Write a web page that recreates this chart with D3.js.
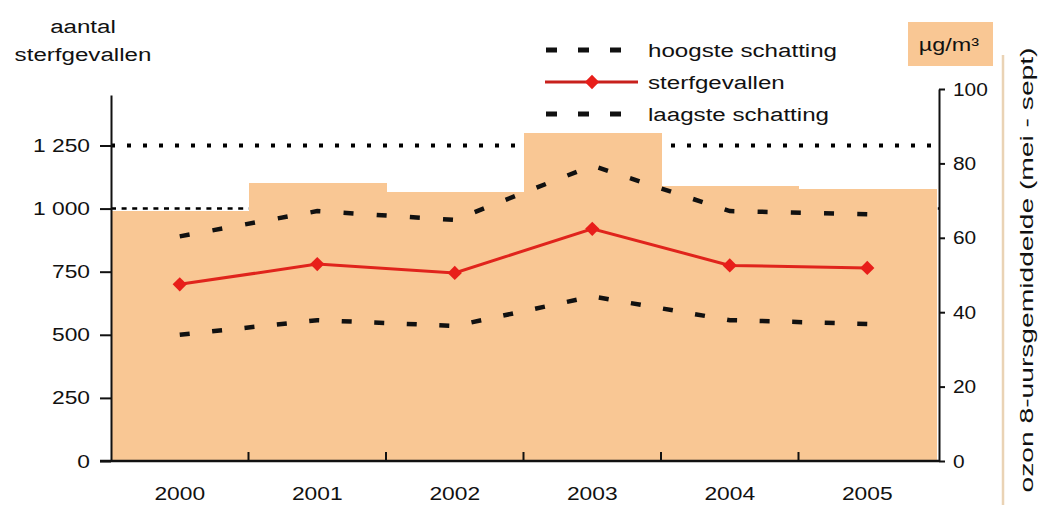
<!DOCTYPE html>
<html>
<head>
<meta charset="utf-8">
<script src="https://cdn.jsdelivr.net/npm/d3@7"></script>
<style>
  html, body { margin: 0; padding: 0; background: #fff; }
  svg { display: block; }
  text { font-family: "Liberation Sans", Arial, sans-serif; fill: #111; }
</style>
</head>
<body>
<svg id="chart" width="1039" height="505"></svg>
<script>
// Yearly data: ozone summer average (right axis) and deaths (left axis)
const years = ["2000", "2001", "2002", "2003", "2004", "2005"];
const ozone = [67.3, 74.8, 72.4, 88.2, 74.0, 73.2];
const deaths = [700, 780, 745, 920, 775, 765];
const highEstimate = [890, 990, 955, 1170, 990, 978];
const lowEstimate = [500, 558, 535, 652, 558, 543];
const leftTicks = [0, 250, 500, 750, 1000, 1250];
const rightTicks = [0, 20, 40, 60, 80, 100];
const refLevels = [1000, 1250];

const svg = d3.select("#chart");
const X0 = 111, X1 = 936, AXR = 939, Y0 = 461;

const x = d3.scaleBand().domain(years).range([X0, X1]).padding(0);
const yL = d3.scaleLinear().domain([0, 1450]).range([Y0, 95]);
const yR = d3.scaleLinear().domain([0, 100]).range([Y0, 89]);

const fmt = d3.formatLocale({ decimal: ",", thousands: " ", grouping: [3], currency: ["", ""] }).format(",");

// widen glyphs horizontally while keeping the anchor point
function stretch(sel, k) {
  sel.each(function () {
    const t = d3.select(this);
    const xv = +t.attr("x") || 0;
    t.attr("x", xv / k).attr("transform", `scale(${k},1)`);
  });
}

// reference levels (dotted), drawn behind the ozone bars
svg.append("line")
  .attr("x1", X0).attr("x2", AXR)
  .attr("y1", yL(refLevels[1])).attr("y2", yL(refLevels[1]))
  .attr("stroke", "#000").attr("stroke-width", 4)
  .attr("stroke-dasharray", "4,12");
svg.append("line")
  .attr("x1", X0).attr("x2", AXR)
  .attr("y1", yL(refLevels[0])).attr("y2", yL(refLevels[0]))
  .attr("stroke", "#000").attr("stroke-width", 2.5)
  .attr("stroke-dasharray", "5,5.6");

// ozone bars
svg.append("g").attr("shape-rendering", "crispEdges").selectAll("rect")
  .data(years)
  .join("rect")
  .attr("x", d => x(d))
  .attr("width", x.bandwidth() + 0.5)
  .attr("y", (d, i) => yR(ozone[i]))
  .attr("height", (d, i) => Y0 - yR(ozone[i]))
  .attr("fill", "#F9C794");

// estimate lines: dash pattern fitted so a dash sits on both end points
const line = d3.line().x((d, i) => x(years[i]) + x.bandwidth() / 2).y(d => yL(d));
[highEstimate, lowEstimate].forEach(arr => {
  const p = svg.append("path")
    .attr("d", line(arr))
    .attr("fill", "none")
    .attr("stroke", "#111")
    .attr("stroke-width", 4.5);
  const L = p.node().getTotalLength();
  const dash = 10;
  const n = Math.round((L - dash) / 33);
  const period = (L - dash) / n;
  p.attr("stroke-dasharray", `${dash},${period - dash}`);
});

// deaths line with diamond markers
svg.append("path")
  .attr("d", line(deaths))
  .attr("fill", "none")
  .attr("stroke", "#E0241C")
  .attr("stroke-width", 3);
const diamond = d3.symbol().type(d3.symbolDiamond2).size(130);
svg.append("g").selectAll("path")
  .data(deaths)
  .join("path")
  .attr("d", diamond)
  .attr("transform", (d, i) => `translate(${x(years[i]) + x.bandwidth() / 2},${yL(d)})`)
  .attr("fill", "#E81E1A");

// left axis
const gL = svg.append("g").attr("transform", `translate(${X0},0)`)
  .call(d3.axisLeft(yL).tickValues(leftTicks).tickSize(11).tickSizeOuter(0).tickPadding(10).tickFormat(fmt));
gL.selectAll("path, line").attr("stroke", "#111").attr("stroke-width", 2);
gL.selectAll("text").attr("font-size", 19).attr("font-family", "Liberation Sans, Arial, sans-serif").attr("fill", "#222");
stretch(gL.selectAll("text"), 1.2);

// right axis
const gR = svg.append("g").attr("transform", `translate(${AXR},0)`)
  .call(d3.axisRight(yR).tickValues(rightTicks).tickSize(6).tickSizeOuter(0).tickPadding(8));
gR.selectAll("path, line").attr("stroke", "#111").attr("stroke-width", 2);
gR.selectAll("text").attr("font-size", 19).attr("font-family", "Liberation Sans, Arial, sans-serif").attr("fill", "#222");
stretch(gR.selectAll("text"), 1.1);

// bottom axis: baseline, ticks between categories, year labels
svg.append("line")
  .attr("x1", 100).attr("x2", AXR)
  .attr("y1", Y0).attr("y2", Y0)
  .attr("stroke", "#111").attr("stroke-width", 2.5);
svg.append("g").selectAll("line")
  .data(years.slice(1))
  .join("line")
  .attr("x1", d => x(d)).attr("x2", d => x(d))
  .attr("y1", Y0).attr("y2", Y0 - 9)
  .attr("stroke", "#111").attr("stroke-width", 2);
const gX = svg.append("g").attr("transform", `translate(0,${Y0})`)
  .call(d3.axisBottom(x).tickSize(0).tickPadding(26));
gX.select(".domain").remove();
gX.selectAll("text").attr("font-size", 19).attr("font-family", "Liberation Sans, Arial, sans-serif").attr("fill", "#222");
stretch(gX.selectAll("text"), 1.2);

// left axis title
const tL = svg.append("g").attr("font-size", 19);
tL.append("text").attr("x", 83).attr("y", 33).attr("text-anchor", "middle").text("aantal");
tL.append("text").attr("x", 83).attr("y", 61).attr("text-anchor", "middle").text("sterfgevallen");
stretch(tL.selectAll("text"), 1.27);

// unit box for the right axis
svg.append("rect").attr("x", 908).attr("y", 22).attr("width", 85).attr("height", 44).attr("fill", "#F9C794");
const unit = svg.append("text").attr("x", 949).attr("y", 51).attr("text-anchor", "middle")
  .attr("font-size", 18).text("µg/m³");
stretch(unit, 1.3);

// right axis title column
svg.append("line").attr("x1", 1003).attr("x2", 1003).attr("y1", 55).attr("y2", 505)
  .attr("stroke", "#EAD3B5").attr("stroke-width", 2.5);
svg.append("text")
  .attr("transform", "translate(1033,270) rotate(-90)")
  .attr("text-anchor", "middle")
  .attr("font-size", 19)
  .attr("textLength", 445)
  .attr("lengthAdjust", "spacingAndGlyphs")
  .text("ozon 8-uursgemiddelde (mei - sept)");

// legend
const legend = [
  { label: "hoogste schatting", y: 50, kind: "dash" },
  { label: "sterfgevallen", y: 82, kind: "red" },
  { label: "laagste schatting", y: 114, kind: "dash" }
];
const lg = svg.append("g");
legend.forEach(item => {
  if (item.kind === "dash") {
    lg.append("line").attr("x1", 546).attr("x2", 625).attr("y1", item.y).attr("y2", item.y)
      .attr("stroke", "#111").attr("stroke-width", 5).attr("stroke-dasharray", "11,21");
  } else {
    lg.append("line").attr("x1", 545).attr("x2", 638).attr("y1", item.y).attr("y2", item.y)
      .attr("stroke", "#C8201C").attr("stroke-width", 3);
    lg.append("path").attr("d", diamond).attr("transform", `translate(592,${item.y})`).attr("fill", "#E81E1A");
  }
});
const lt = lg.append("g").attr("font-size", 19);
legend.forEach(item => {
  lt.append("text").attr("x", 648).attr("y", item.y + 7).text(item.label);
});
stretch(lt.selectAll("text"), 1.27);
</script>
</body>
</html>
